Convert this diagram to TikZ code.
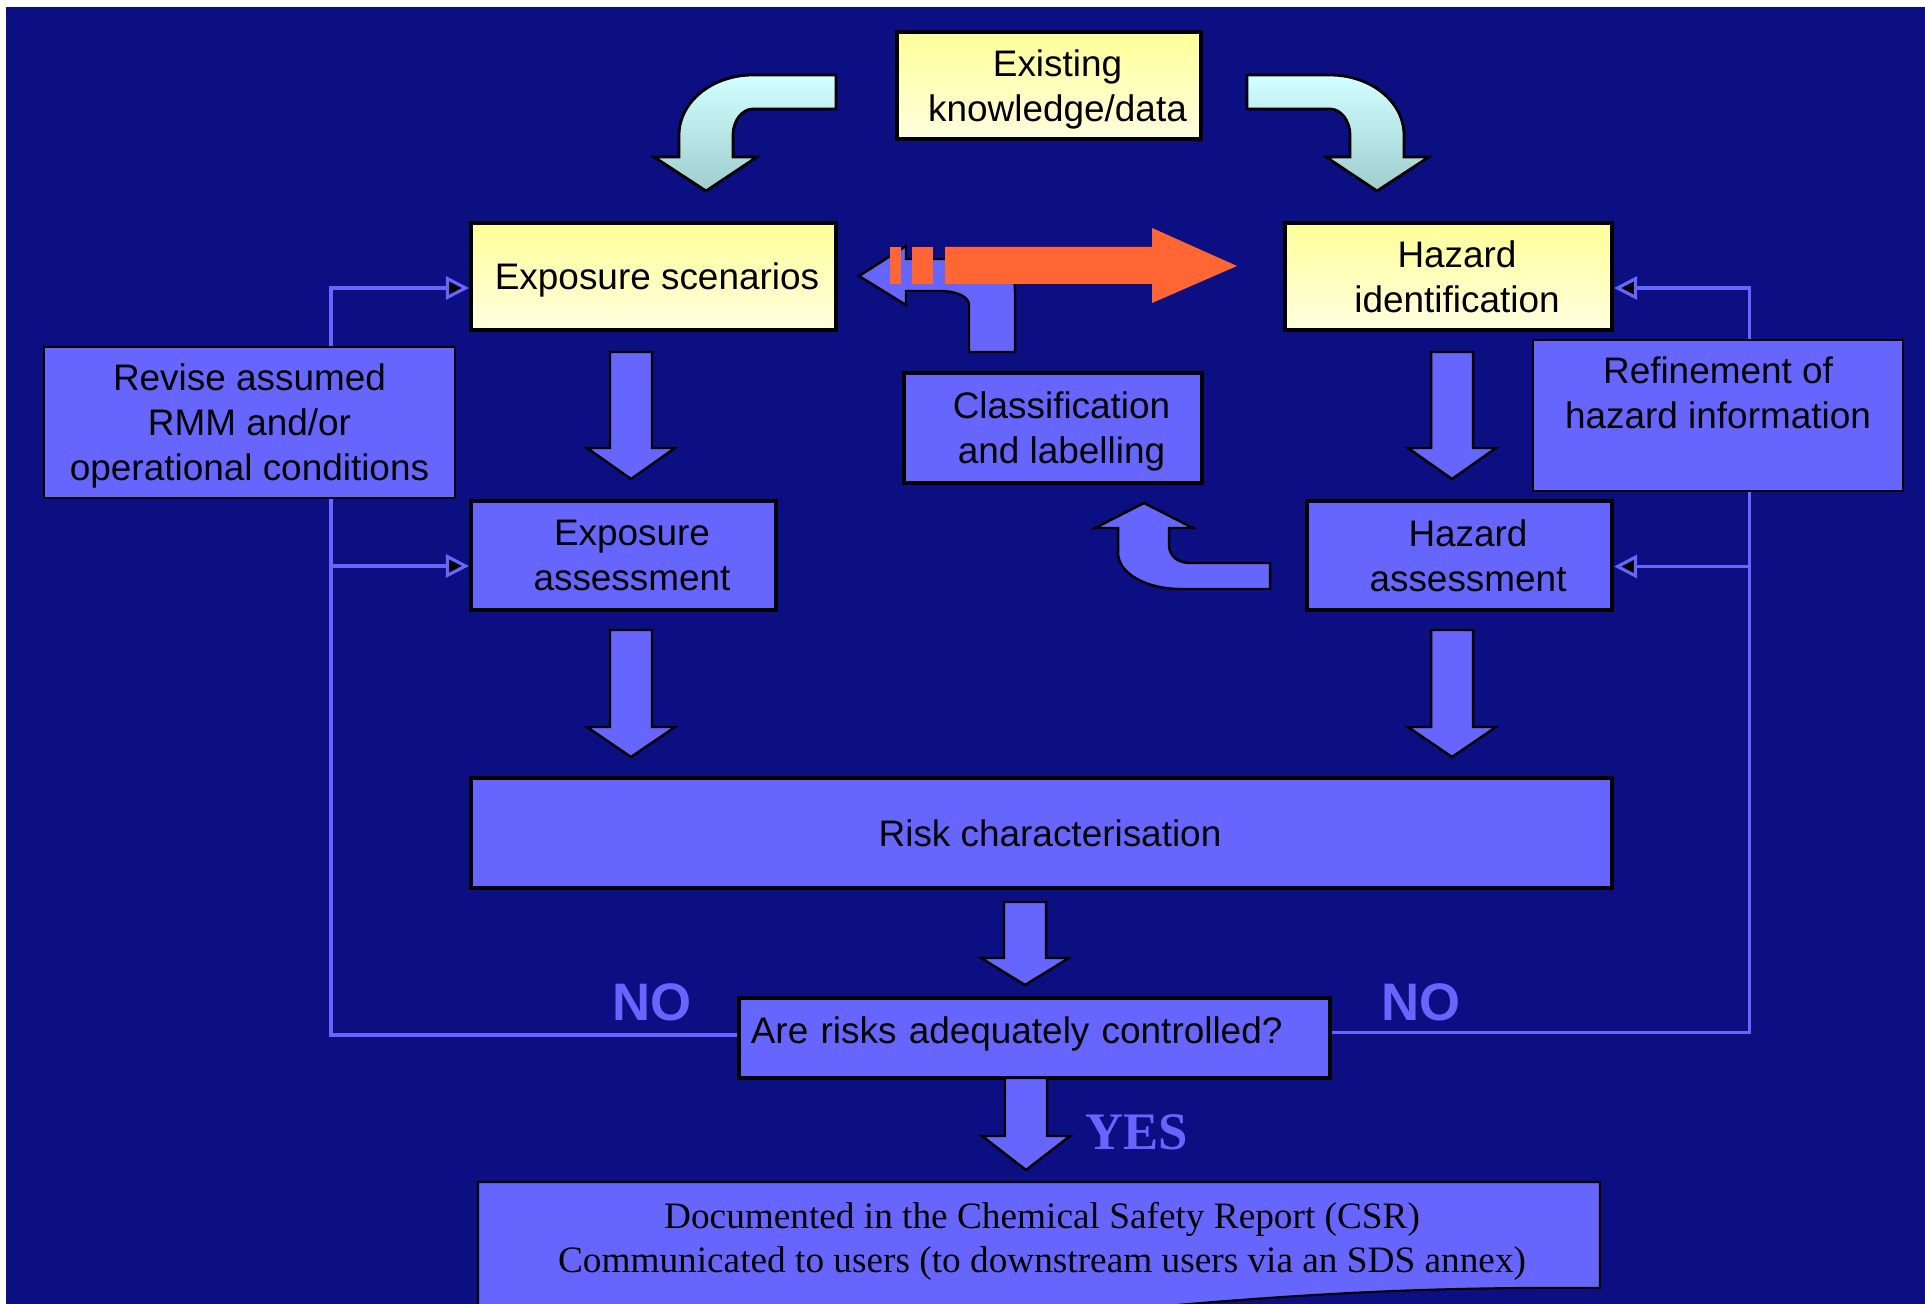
\documentclass[tikz,border=0pt]{standalone}
\usepackage{fontspec}
\setmainfont{Liberation Sans}
\newfontfamily\timesrm{Liberation Serif}
\usetikzlibrary{arrows.meta, calc}
\definecolor{navy}{HTML}{0C0F82}
\definecolor{boxblue}{HTML}{6666FF}
\definecolor{paleyellow}{HTML}{FFFF99}
\definecolor{creamyellow}{HTML}{FFFFE0}
\definecolor{icecyan}{HTML}{D2FFFF}
\definecolor{greycyan}{HTML}{9FCCCC}
\definecolor{reachorange}{HTML}{FF6633}
\pgfdeclarelayer{bg}
\pgfdeclarelayer{lines}
\pgfsetlayers{bg,lines,main}
\tikzset{
  stagebox/.style={draw=black, line width=1.1pt, inner sep=0pt, align=center, text depth=0pt,
    font=\fontsize{10.5}{12.8}\selectfont},
  yellowbox/.style={stagebox, top color=paleyellow, bottom color=creamyellow},
  bluebox/.style={stagebox, fill=boxblue},
  notebox/.style={bluebox, line width=0.6pt},
  blk/.style={fill=boxblue, draw=black, line width=0.7pt},
  fb/.style={draw=boxblue, line width=0.9pt, -{Triangle[fill=black, length=0.23cm, width=0.23cm]}},
  nolabel/.style={text=boxblue, inner sep=0pt, font=\fontsize{15}{18}\selectfont\bfseries}
}
% leading gap the slide puts before each line
\newcommand{\pad}{\hspace*{0.17cm}}
% block arrow pointing down: centre x, top, head base, tip
\newcommand{\blkdown}[4]{%
  \draw[blk] (#1-21,#2) -- (#1+21,#2) -- (#1+21,#3) -- (#1+44,#3) -- (#1,#4)
    -- (#1-44,#3) -- (#1-21,#3) -- cycle;}

\begin{document}
\begin{tikzpicture}[x=0.01cm, y=-0.01cm]
  \useasboundingbox (0,0) rectangle (1925,1304);
  \begin{pgfonlayer}{bg}
    \fill[navy] (6,7) rectangle (1925,1304);
  \end{pgfonlayer}

  % boxes
  \node[yellowbox, minimum width=3.04cm, minimum height=1.07cm] (know) at (1049,85.5) {\pad Existing\\\pad knowledge/data};
  \node[yellowbox, minimum width=3.65cm, minimum height=1.07cm] (expsc) at (653.5,276.5) {\hspace*{0.07cm}Exposure scenarios};
  \node[yellowbox, minimum width=3.27cm, minimum height=1.07cm] (hazid) at (1448.5,276.5) {\pad Hazard\\\pad identification};
  \node[bluebox, minimum width=2.97cm, minimum height=1.10cm] (classif) at (1053,428) {\pad Classification\\\pad and labelling};
  \node[notebox, minimum width=4.11cm, minimum height=1.51cm] (revise) at (249.5,422.5) {Revise assumed\\RMM and/or\\operational conditions};
  \node[notebox, minimum width=3.70cm, minimum height=1.51cm] (refine) at (1718,415.5) {Refinement of\\hazard information\\ \mbox{}};
  \node[bluebox, minimum width=3.05cm, minimum height=1.09cm] (expass) at (623.5,555.5) {\pad Exposure\\\pad assessment};
  \node[bluebox, minimum width=3.05cm, minimum height=1.09cm] (hazass) at (1459.5,555.5) {\pad Hazard\\\pad assessment};
  \node[bluebox, minimum width=11.41cm, minimum height=1.10cm] (risk) at (1041.5,833) {\pad Risk characterisation};
  \node[bluebox, minimum width=5.91cm, minimum height=0.80cm, text width=5.67cm, align=left, inner xsep=0.12cm,
    text depth=0.15cm] (ctrl) at (1034.5,1038) {Are risks adequately controlled?};

  % document box at the bottom
  \draw[fill=boxblue, line width=0.6pt] (478,1182) -- (1600,1182) -- (1600,1288)
    .. controls (1450,1287) and (1320,1291) .. (1100,1312) -- (478,1312) -- cycle;
  \node[inner sep=0pt, align=center, font=\timesrm\fontsize{10.6}{12.6}\selectfont] (doc) at (1042,1241.5)
    {Documented in the Chemical Safety Report (CSR)\\Communicated to users (to downstream users via an SDS annex)};

  % curved arrows from existing knowledge
  \draw[line width=0.8pt, top color=icecyan, bottom color=greycyan]
    (836,75) -- (753,75) .. controls (712,75) and (679,102) .. (679,135) -- (679,157)
    -- (654,157) -- (706,191) -- (757,157) -- (733,157) -- (733,135)
    .. controls (733,121) and (742,109) .. (753,109) -- (836,109) -- cycle;
  \draw[line width=0.8pt, top color=icecyan, bottom color=greycyan]
    (1247,75) -- (1330,75) .. controls (1371,75) and (1404,102) .. (1404,135) -- (1404,157)
    -- (1429,157) -- (1377,191) -- (1326,157) -- (1350,157) -- (1350,135)
    .. controls (1350,121) and (1341,109) .. (1330,109) -- (1247,109) -- cycle;

  % classification arrows
  \draw[blk] (859,276) -- (906,246) -- (906,259) -- (1000,259)
    .. controls (1009,259) and (1015,272) .. (1015,292) -- (1015,352) -- (969,352) -- (969,305)
    .. controls (969,296) and (955,291) .. (940,291) -- (906,291) -- (906,305) -- cycle;
  \draw[blk] (1144,503) -- (1193,528) -- (1169,528) -- (1169,545)
    .. controls (1169,556) and (1178,563) .. (1190,563) -- (1270,563) -- (1270,589) -- (1180,589)
    .. controls (1146,589) and (1118,573) .. (1118,553) -- (1118,528) -- (1095,528) -- cycle;

  % orange two-way arrow
  \fill[reachorange] (945,247) -- (1152,247) -- (1152,228) -- (1237,266) -- (1152,303)
    -- (1152,284) -- (945,284) -- cycle;
  \fill[reachorange] (890,247) rectangle (901,284);
  \fill[reachorange] (912,247) rectangle (933,284);

  % block arrows
  \blkdown{631}{352}{448}{479}
  \blkdown{1452}{352}{448}{479}
  \blkdown{631}{630}{727}{757}
  \blkdown{1452}{630}{727}{757}
  \blkdown{1025}{902}{958}{985}
  \blkdown{1026}{1078}{1136}{1170}

  % feedback loops
  \coordinate (lbus) at (331,700);
  \coordinate (rbus) at (1749.5,700);
  \begin{pgfonlayer}{lines}
    \draw[fb] ([yshift=0.03cm]ctrl.west) -| (lbus) |- ([yshift=-0.115cm]expsc.west);
    \draw[fb] (lbus) |- ([yshift=-0.105cm]expass.west);
    \draw[fb] ([yshift=0.055cm]ctrl.east) -| (rbus) |- ([yshift=-0.115cm]hazid.east);
    \draw[fb] (rbus) |- ([yshift=-0.11cm]hazass.east);
  \end{pgfonlayer}

  % labels
  \node[nolabel] (nolft) at (652,1002) {NO};
  \node[nolabel] (norgt) at (1421,1002) {NO};
  \node[text=boxblue, inner sep=0pt, font=\timesrm\fontsize{15}{18}\selectfont\bfseries] (yes) at (1137,1132.5) {YES};
\end{tikzpicture}
\end{document}
